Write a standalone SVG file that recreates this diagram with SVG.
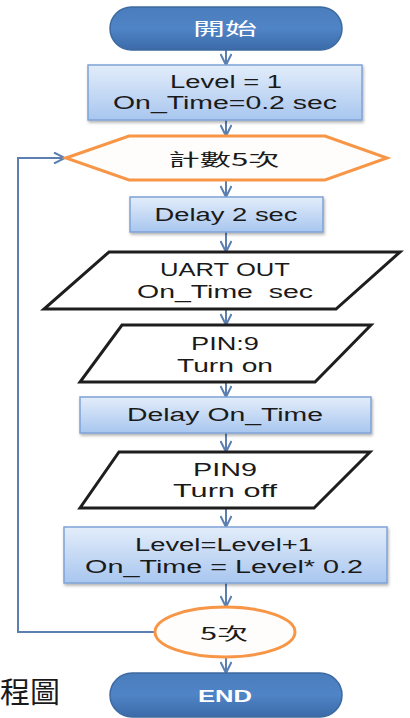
<svg xmlns="http://www.w3.org/2000/svg" width="410" height="718" viewBox="0 0 410 718">
  <style>
    .txt { font-family: "Liberation Sans", "Open Sans", "Noto Sans CJK TC", sans-serif; font-size: 18px; fill: #1a1a1a; text-anchor: middle; dominant-baseline: central; }
    .cjk { font-family: "Noto Sans CJK TC", sans-serif; font-size: 17px; fill: #1a1a1a; text-anchor: middle; dominant-baseline: central; }
    .wtxt { font-family: "Liberation Sans", "Open Sans", "Noto Sans CJK TC", sans-serif; font-size: 17px; fill: #ffffff; text-anchor: middle; dominant-baseline: central; }
    .term { fill: url(#termGrad); stroke: #3c6aa0; stroke-width: 1.5; }
    .proc { fill: url(#procGrad); stroke: #7fa3d6; stroke-width: 1.5; filter: url(#shadow); }
    .io { fill: #ffffff; stroke: #1e1e1e; stroke-width: 3; }
    .loop { fill: #fffdfb; stroke: #f79646; stroke-width: 3; }
    .conn { fill: none; stroke: #5a7fb0; stroke-width: 2; }
  </style>
  <defs>
    <linearGradient id="termGrad" x1="0" y1="0" x2="0" y2="1">
      <stop offset="0" stop-color="#4a7dbd"/>
      <stop offset="0.5" stop-color="#4f84c6"/>
      <stop offset="1" stop-color="#3b6aa8"/>
    </linearGradient>
    <linearGradient id="procGrad" x1="0" y1="0" x2="0" y2="1">
      <stop offset="0" stop-color="#e3edfa"/>
      <stop offset="1" stop-color="#a8c6ef"/>
    </linearGradient>
    <filter id="shadow" x="-10%" y="-20%" width="120%" height="150%">
      <feDropShadow dx="1" dy="2" stdDeviation="1.5" flood-color="#000" flood-opacity="0.3"/>
    </filter>
    <marker id="arrow" markerWidth="14" markerHeight="12" refX="12" refY="6" orient="auto" markerUnits="userSpaceOnUse">
      <path d="M1,0.5 L12,6 L1,11.5" fill="none" stroke="#5a7fb0" stroke-width="2"/>
    </marker>
  </defs>

  <!-- connectors -->
  <g id="connectors">
    <line class="conn" x1="226" y1="50" x2="226" y2="65" marker-end="url(#arrow)"/>
    <line class="conn" x1="226" y1="120" x2="226" y2="136" marker-end="url(#arrow)"/>
    <line class="conn" x1="226" y1="180" x2="226" y2="197" marker-end="url(#arrow)"/>
    <line class="conn" x1="226" y1="232" x2="226" y2="252" marker-end="url(#arrow)"/>
    <line class="conn" x1="226" y1="309" x2="226" y2="325" marker-end="url(#arrow)"/>
    <line class="conn" x1="226" y1="382" x2="226" y2="397" marker-end="url(#arrow)"/>
    <line class="conn" x1="226" y1="433" x2="226" y2="452" marker-end="url(#arrow)"/>
    <line class="conn" x1="226" y1="508" x2="226" y2="527" marker-end="url(#arrow)"/>
    <line class="conn" x1="226" y1="583" x2="226" y2="607" marker-end="url(#arrow)"/>
    <line class="conn" x1="226" y1="657" x2="226" y2="673" marker-end="url(#arrow)"/>
    <polyline class="conn" points="155,632 18,632 18,158 65,158" marker-end="url(#arrow)"/>
  </g>

  <g id="start">
    <rect class="term" x="110" y="7" width="232" height="43" rx="21.5"/>
    <text class="wtxt" x="225" y="29" textLength="64" lengthAdjust="spacingAndGlyphs">開始</text>
  </g>

  <g id="init">
    <rect class="proc" x="88" y="65" width="274" height="55"/>
    <text class="txt" x="226" y="82" textLength="112" lengthAdjust="spacingAndGlyphs">Level = 1</text>
    <text class="txt" x="225" y="103" textLength="224" lengthAdjust="spacingAndGlyphs">On_Time=0.2 sec</text>
  </g>

  <g id="loop-start">
    <polygon class="loop" points="66,158 129,136 325,136 387,158 325,180 129,180"/>
    <text class="cjk" x="224" y="158" textLength="111" lengthAdjust="spacingAndGlyphs">計數5次</text>
  </g>

  <g id="delay2">
    <rect class="proc" x="130" y="197" width="193" height="35"/>
    <text class="txt" x="226" y="215" textLength="143" lengthAdjust="spacingAndGlyphs">Delay 2 sec</text>
  </g>

  <g id="uart">
    <polygon class="io" points="109,252 400,252 336,309 44,309"/>
    <text class="txt" x="225" y="270" textLength="130" lengthAdjust="spacingAndGlyphs">UART OUT</text>
    <text class="txt" x="225" y="292" textLength="176" lengthAdjust="spacingAndGlyphs" xml:space="preserve">On_Time  sec</text>
  </g>

  <g id="pin-on">
    <polygon class="io" points="122,325 371,325 315,382 80,382"/>
    <text class="txt" x="225" y="344" textLength="68" lengthAdjust="spacingAndGlyphs">PIN:9</text>
    <text class="txt" x="225" y="366" textLength="96" lengthAdjust="spacingAndGlyphs">Turn on</text>
  </g>

  <g id="delay-on">
    <rect class="proc" x="80" y="397" width="291" height="36"/>
    <text class="txt" x="225" y="415" textLength="196" lengthAdjust="spacingAndGlyphs">Delay On_Time</text>
  </g>

  <g id="pin-off">
    <polygon class="io" points="119,452 370,452 314,508 80,508"/>
    <text class="txt" x="225" y="470" textLength="64" lengthAdjust="spacingAndGlyphs">PIN9</text>
    <text class="txt" x="225" y="491" textLength="104" lengthAdjust="spacingAndGlyphs">Turn off</text>
  </g>

  <g id="update">
    <rect class="proc" x="64" y="527" width="323" height="56"/>
    <text class="txt" x="224" y="545" textLength="178" lengthAdjust="spacingAndGlyphs">Level=Level+1</text>
    <text class="txt" x="224" y="567" textLength="278" lengthAdjust="spacingAndGlyphs">On_Time = Level* 0.2</text>
  </g>

  <g id="loop-end">
    <ellipse class="loop" cx="225" cy="632" rx="70" ry="25"/>
    <text class="cjk" x="224" y="632" textLength="48" lengthAdjust="spacingAndGlyphs">5次</text>
  </g>

  <g id="end">
    <rect class="term" x="110" y="673" width="232" height="44" rx="22"/>
    <text class="wtxt" x="225" y="696" font-size="16" style="font-weight:bold" textLength="54" lengthAdjust="spacingAndGlyphs">END</text>
  </g>

  <text x="0" y="703" font-family="'Noto Sans CJK TC', sans-serif" font-size="29" fill="#1a1a1a" textLength="60" lengthAdjust="spacingAndGlyphs">程圖</text>
</svg>
